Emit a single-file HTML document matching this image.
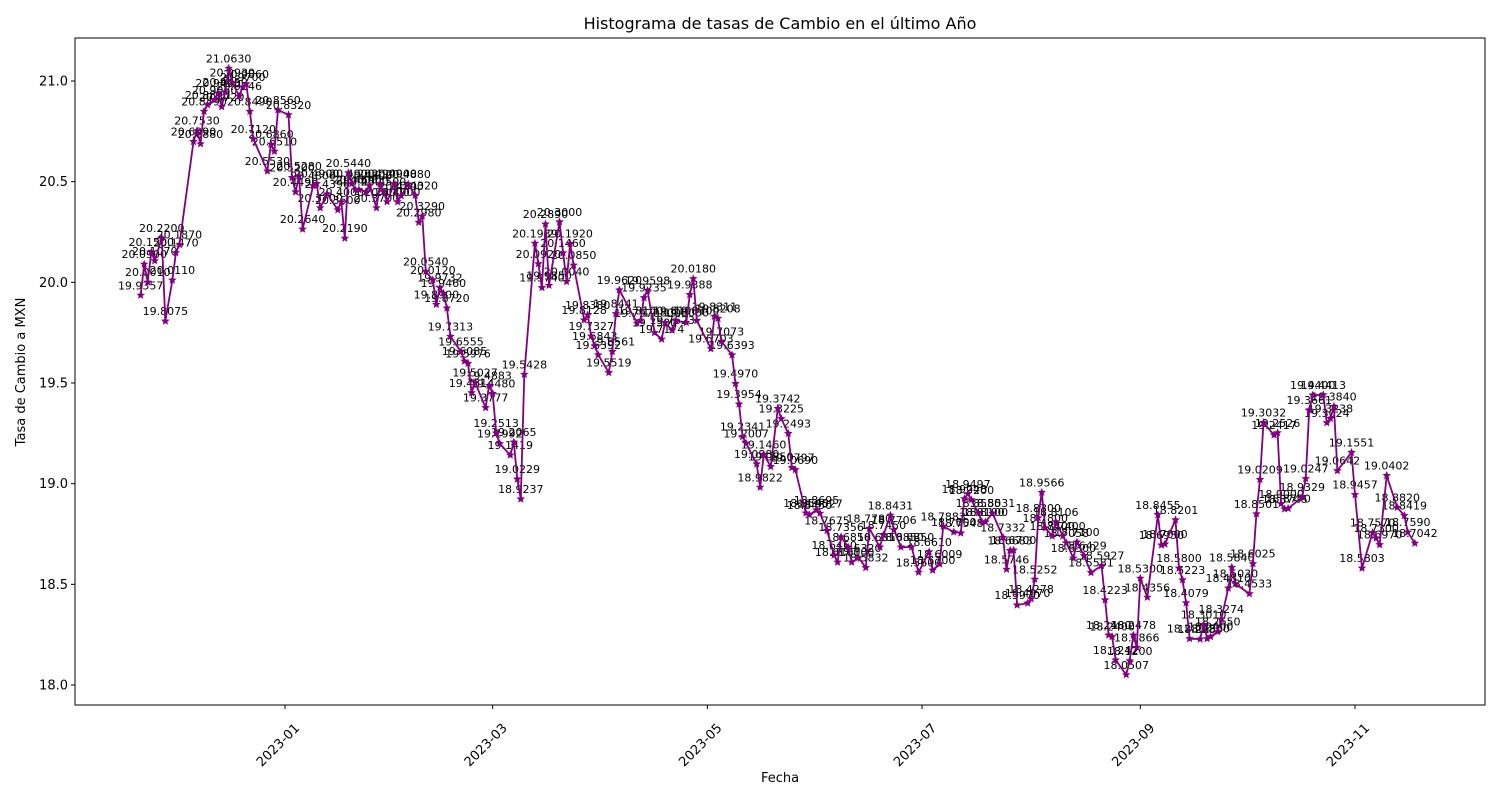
<!DOCTYPE html>
<html><head><meta charset="utf-8"><style>
html,body{margin:0;padding:0;background:#fff;}
svg{display:block;font-family:"DejaVu Sans","Liberation Sans",sans-serif;}
</style></head><body>
<svg id="chart" width="1500" height="800" viewBox="0 0 1500 800" xmlns="http://www.w3.org/2000/svg">
<rect width="1500" height="800" fill="#fff"/>
<text x="780" y="29" font-size="16" text-anchor="middle" fill="#000">Histograma de tasas de Cambio en el último Año</text>
<text transform="translate(25,372) rotate(-90)" font-size="13" text-anchor="middle" fill="#000">Tasa de Cambio a MXN</text>
<text x="780" y="782" font-size="13" text-anchor="middle" fill="#000">Fecha</text>
<g id="ticks"></g>
<g id="labels"></g>
<g id="series"></g>
<rect x="75" y="38" width="1410" height="667" fill="none" stroke="#000" stroke-width="1"/>
</svg>
<script>
// days since 2023-01-01
const days = [-41,-40,-39,-38,-37,-35,-34,-32,-31,-30,-26,-25,-24,-23,-22,-20,-19,-18,-17,-16,-15,-13,-12,-11,-10,-9,-5,-4,-3,-2,1,2,3,4,5,8,9,10,12,15,16,17,18,19,20,21,23,24,26,27,28,29,31,32,33,35,37,38,39,40,42,43,44,45,46,47,50,51,52,53,54,57,58,59,60,61,64,65,66,67,68,71,72,73,74,75,78,79,80,81,82,85,86,87,88,89,92,93,94,95,100,101,102,103,105,107,108,110,111,114,115,116,117,121,122,123,124,127,128,129,130,131,134,135,136,138,140,141,143,144,145,148,149,151,152,154,156,157,158,160,161,163,165,166,169,170,172,173,175,178,180,183,184,186,187,190,192,193,194,195,197,198,199,201,204,205,206,207,208,211,212,213,214,215,216,218,219,221,222,224,225,227,229,232,233,234,235,236,239,240,241,242,243,245,248,249,250,253,254,255,256,257,260,261,262,263,265,266,268,269,270,274,275,276,277,278,281,282,283,284,285,289,290,291,292,295,296,297,298,299,303,304,306,309,310,311,313,316,318,319,321];
const rates = [19.9357,20.0900,20.0010,20.1500,20.1070,20.2200,19.8075,20.0110,20.1470,20.1870,20.6990,20.7530,20.6880,20.8490,20.8820,20.9060,20.9400,20.8720,20.9450,21.0630,20.9930,20.9246,20.9700,20.9860,20.8490,20.7120,20.5530,20.6860,20.6510,20.8560,20.8320,20.5200,20.4490,20.5280,20.2640,20.4800,20.4900,20.3700,20.4390,20.3600,20.4000,20.2190,20.5440,20.4900,20.4600,20.4600,20.4500,20.4800,20.3700,20.4900,20.4500,20.4000,20.4900,20.4000,20.4300,20.4880,20.4320,20.2980,20.3290,20.0540,20.0120,19.8900,19.9732,19.9460,19.8720,19.7313,19.6555,19.6085,19.5976,19.4514,19.5027,19.3777,19.4883,19.4480,19.2513,19.1992,19.1419,19.2065,19.0229,18.9237,19.5428,20.1939,20.0920,19.9740,20.2890,19.9850,20.3000,20.1460,20.0040,20.1920,20.0850,19.8128,19.8380,19.7327,19.6843,19.6392,19.5519,19.6561,19.8441,19.9620,19.7970,19.8100,19.9235,19.9598,19.7500,19.7174,19.8000,19.7623,19.8100,19.8000,19.9388,20.0180,19.8100,19.6703,19.8311,19.8208,19.7073,19.6393,19.4970,19.3954,19.2341,19.2007,19.0980,18.9822,19.1460,19.0850,19.3742,19.3225,19.2493,19.0797,19.0690,18.8540,18.8450,18.8695,18.8527,18.7675,18.6450,18.6100,18.7356,18.6850,18.6100,18.6320,18.5832,18.7780,18.6850,18.7450,18.8431,18.7706,18.6850,18.6850,18.5600,18.6610,18.5700,18.6009,18.7883,18.7600,18.7548,18.9248,18.9497,18.9200,18.8550,18.8100,18.8100,18.8531,18.7332,18.5746,18.6683,18.6700,18.3970,18.4070,18.4278,18.5252,18.8300,18.9566,18.7800,18.7400,18.8106,18.7400,18.7058,18.6300,18.7100,18.6429,18.5581,18.5927,18.4223,18.2480,18.2400,18.1242,18.0507,18.1200,18.2478,18.1866,18.5300,18.4356,18.8455,18.6950,18.7000,18.8201,18.5800,18.5223,18.4079,18.2300,18.2280,18.3010,18.2300,18.2400,18.2650,18.3274,18.4810,18.5840,18.5030,18.4533,18.6025,18.8501,19.0209,19.3032,19.2417,19.2526,18.9000,18.8746,18.8770,18.9329,19.0247,19.3661,19.4400,19.4413,19.3024,19.3238,19.3840,19.0642,19.1551,18.9457,18.5803,18.7570,18.7300,18.6970,19.0402,18.8820,18.8419,18.7590,18.7042];
const yTicks = [18.0,18.5,19.0,19.5,20.0,20.5,21.0];
const xTickDays = [0,59,120,181,243,304];
const xTickLabels = ["2023-01","2023-03","2023-05","2023-07","2023-09","2023-11"];

const NS = "http://www.w3.org/2000/svg";
const xS = d => 285 + d * (1070 / 304);
const yS = v => 685 - (v - 18) * (604 / 3);
function mk(tag, attrs, parent) {
  const e = document.createElementNS(NS, tag);
  for (const k in attrs) e.setAttribute(k, attrs[k]);
  parent.appendChild(e);
  return e;
}
const ticks = document.getElementById('ticks');
yTicks.forEach(v => {
  const y = yS(v);
  const l = mk('line', {x1: 71, x2: 75, y1: y, y2: y, stroke: '#000'}, ticks);
  
  
  const t = mk('text', {x: 68, y: y + 4.5, 'font-size': 13, 'text-anchor': 'end', fill: '#000'}, ticks);
  t.textContent = v.toFixed(1);
  
  
});
xTickDays.forEach((d, i) => {
  const x = xS(d);
  const l = mk('line', {x1: x, x2: x, y1: 705, y2: 709, stroke: '#000'}, ticks);
  
  
  const t = mk('text', {transform: `translate(${x - 4},${748}) rotate(-45)`, 'font-size': 13, 'text-anchor': 'middle', fill: '#000'}, ticks);
  t.textContent = xTickLabels[i];
  
  
});
const series = document.getElementById('series');
const pts = days.map((d, i) => xS(d).toFixed(1) + ',' + yS(rates[i]).toFixed(1)).join(' ');
const line = mk('polyline', {points: pts, fill: 'none', stroke: '#800080', 'stroke-width': 1.8}, series);


const star = (cx, cy, r) => {
  let p = [];
  for (let k = 0; k < 10; k++) {
    const a = -Math.PI / 2 + k * Math.PI / 5;
    const rr = k % 2 ? r * 0.45 : r;
    p.push((cx + rr * Math.cos(a)).toFixed(1) + ',' + (cy + rr * Math.sin(a)).toFixed(1));
  }
  return p.join(' ');
};
const labels = document.getElementById('labels');
days.forEach((d, i) => {
  const x = xS(d), y = yS(rates[i]);
  const m = mk('polygon', {points: star(x, y, 4.5), fill: '#800080'}, series);
  
  
  const t = mk('text', {x: x, y: y - 6, 'font-size': 11, 'text-anchor': 'middle', fill: '#000'}, labels);
  t.textContent = rates[i].toFixed(4);
  
  
});
</script>
</body></html>
